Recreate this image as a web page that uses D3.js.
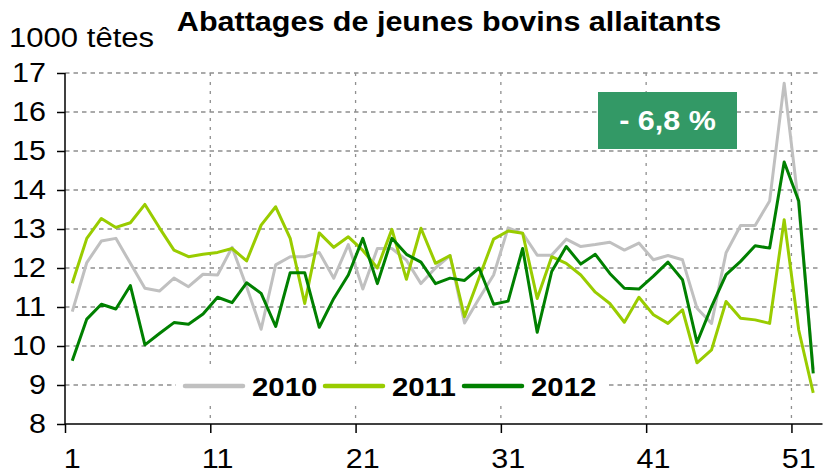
<!DOCTYPE html>
<html>
<head>
<meta charset="utf-8">
<script src="https://cdn.jsdelivr.net/npm/d3@7"></script>
<style>
  html, body { margin: 0; padding: 0; background: #fff; }
  svg { display: block; font-family: "Liberation Sans", Arial, sans-serif; }
</style>
</head>
<body>
<svg id="chart" width="823" height="475"></svg>
<script>
// ---- data ----
const weeks = d3.range(1, 53);
const values2010 = [10.88, 12.14, 12.69, 12.76, 12.12, 11.48, 11.41, 11.74, 11.52, 11.84,
  11.82, 12.53, 11.52, 10.43, 12.08, 12.29, 12.29, 12.40, 11.74, 12.60,
  11.46, 12.50, 12.50, 12.20, 11.60, 12.00, 12.32, 10.59, 11.22, 11.82,
  13.03, 12.89, 12.33, 12.33, 12.74, 12.55, 12.60, 12.66, 12.46, 12.64,
  12.21, 12.32, 12.21, 10.97, 10.58, 12.39, 13.09, 13.09, 13.72, 16.74, 13.60, 9.40];
const values2011 = [11.61, 12.76, 13.27, 13.04, 13.16, 13.63, 13.03, 12.46, 12.29, 12.35,
  12.40, 12.50, 12.18, 13.10, 13.57, 12.76, 11.09, 12.90, 12.53, 12.80,
  12.45, 12.00, 12.99, 11.71, 13.02, 12.12, 12.32, 10.75, 11.75, 12.74,
  12.95, 12.89, 11.22, 12.29, 12.12, 11.82, 11.38, 11.09, 10.61, 11.25,
  10.80, 10.58, 10.93, 9.57, 9.90, 11.14, 10.71, 10.67, 10.58, 13.24, 10.41, 8.80];
const values2012 = [9.62, 10.69, 11.07, 10.95, 11.55, 10.03, 10.32, 10.60, 10.56, 10.82,
  11.25, 11.11, 11.62, 11.35, 10.50, 11.88, 11.88, 10.48, 11.22, 11.82,
  12.76, 11.60, 12.76, 12.35, 12.15, 11.60, 11.74, 11.68, 12.00, 11.07,
  11.15, 12.50, 10.35, 11.91, 12.55, 12.10, 12.35, 11.86, 11.48, 11.46,
  11.79, 12.15, 11.70, 10.09, 11.01, 11.83, 12.17, 12.57, 12.51, 14.72, 13.72, 9.30];
const seriesNames = ["2010", "2011", "2012"];
const seriesColors = ["#c0c0c0", "#99cc00", "#008000"];
const yTicks = [8, 9, 10, 11, 12, 13, 14, 15, 16, 17];
const xLabels = [1, 11, 21, 31, 41, 51];
const xBoundaries = [0, 10, 20, 30, 40, 50];
const title = "Abattages de jeunes bovins allaitants";
const unitLabel = "1000 têtes";
const changeLabel = "- 6,8 %";

const series = [values2010, values2011, values2012].map((vals, i) => ({
  name: seriesNames[i], color: seriesColors[i],
  points: weeks.map((w, j) => ({ w, v: vals[j] }))
}));

// ---- layout ----
const svg = d3.select("#chart");
const plotLeft = 65, plotRight = 820.5, plotTop = 73, plotBottom = 424;
const STRETCH = 1.13;

const x = d3.scaleBand().domain(weeks).range([plotLeft, plotRight]).padding(0);
const xb = d3.scaleLinear().domain([0, 52]).range([plotLeft, plotRight]);
const y = d3.scaleLinear().domain([8, 17]).range([plotBottom, plotTop]);

function stretch(sel) {
  sel.each(function () {
    const w = this.getComputedTextLength();
    d3.select(this).attr("textLength", w * STRETCH).attr("lengthAdjust", "spacingAndGlyphs");
  });
}

// gridlines
svg.append("g").selectAll("line").data(yTicks.filter(t => t > 8)).join("line")
  .attr("x1", plotLeft).attr("x2", plotRight)
  .attr("y1", d => y(d)).attr("y2", d => y(d))
  .attr("stroke", "#8f8f8f").attr("stroke-width", 1.3).attr("stroke-dasharray", "4.5,4");
svg.append("g").selectAll("line").data(xBoundaries.filter(b => b > 0)).join("line")
  .attr("x1", d => xb(d)).attr("x2", d => xb(d))
  .attr("y1", plotTop).attr("y2", plotBottom)
  .attr("stroke", "#8f8f8f").attr("stroke-width", 1.3).attr("stroke-dasharray", "3,6");

// lines
const line = d3.line().x(d => x(d.w) + x.bandwidth() / 2).y(d => y(d.v));
svg.append("g").selectAll("path").data(series).join("path")
  .attr("d", d => line(d.points))
  .attr("fill", "none").attr("stroke", d => d.color)
  .attr("stroke-width", 3).attr("stroke-linejoin", "round");

// y axis
const yAxis = svg.append("g").attr("transform", `translate(${plotLeft},0)`)
  .call(d3.axisLeft(y).tickValues(yTicks).tickSize(8).tickPadding(11).tickFormat(d3.format("d")));
yAxis.select(".domain").attr("stroke", "#000").attr("stroke-width", 1.5).attr("d", `M0,${plotTop}V${plotBottom}`);
yAxis.selectAll(".tick line").attr("stroke", "#000").attr("stroke-width", 1.5);
yAxis.selectAll("text").attr("font-size", 27).attr("fill", "#000")
  .attr("font-family", "Liberation Sans, Arial, sans-serif").call(stretch);

// x axis: boundary ticks
const xAxisTicks = svg.append("g").attr("transform", `translate(0,${plotBottom})`)
  .call(d3.axisBottom(xb).tickValues(xBoundaries).tickSize(9).tickFormat(""));
xAxisTicks.select(".domain").attr("stroke", "#000").attr("stroke-width", 1.5).attr("d", `M${plotLeft},0H${plotRight + 2}`);
xAxisTicks.selectAll(".tick line").attr("stroke", "#000").attr("stroke-width", 1.5);
// x axis: labels at categories
const xAxisLabels = svg.append("g").attr("transform", `translate(0,${plotBottom})`)
  .call(d3.axisBottom(x).tickValues(xLabels).tickSize(0).tickPadding(25));
xAxisLabels.select(".domain").remove();
xAxisLabels.selectAll("text").attr("font-size", 27).attr("fill", "#000")
  .attr("font-family", "Liberation Sans, Arial, sans-serif").call(stretch);

// title & unit
svg.append("text").attr("x", 449).attr("y", 31).attr("text-anchor", "middle")
  .attr("font-size", 27).attr("font-weight", "bold").text(title).call(stretch);
svg.append("text").attr("x", 9).attr("y", 47)
  .attr("font-size", 27.5).text(unitLabel).call(stretch);

// change box
svg.append("rect").attr("x", 598).attr("y", 92).attr("width", 139).attr("height", 57).attr("fill", "#339966");
svg.append("text").attr("x", 667.5).attr("y", 130).attr("text-anchor", "middle")
  .attr("font-size", 27).attr("font-weight", "bold").attr("fill", "#fff").text(changeLabel).call(stretch);

// legend
const legend = svg.append("g");
legend.append("rect").attr("x", 176).attr("y", 369).attr("width", 432).attr("height", 32).attr("fill", "#fff");
const legendX = [185, 325, 464];
const items = legend.selectAll("g").data(series).join("g")
  .attr("transform", (d, i) => `translate(${legendX[i]},386)`);
items.append("line").attr("x1", 0).attr("x2", 58).attr("y1", 0).attr("y2", 0)
  .attr("stroke", d => d.color).attr("stroke-width", 4.5).attr("stroke-linecap", "round");
items.append("text").attr("x", 67).attr("y", 10)
  .attr("font-size", 26).attr("font-weight", "bold").text(d => d.name).call(stretch);
</script>
</body>
</html>
